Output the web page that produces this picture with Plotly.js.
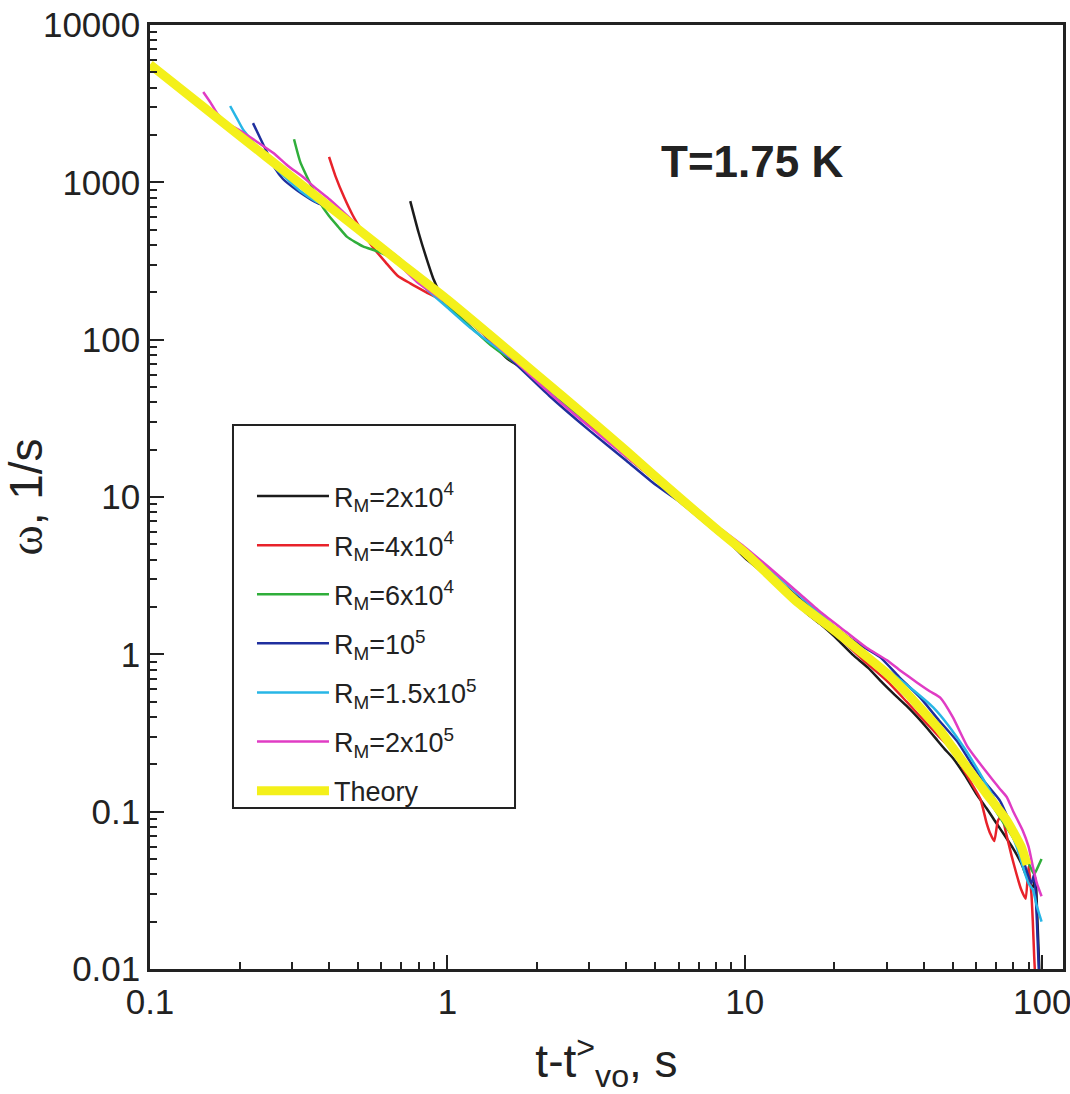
<!DOCTYPE html>
<html>
<head>
<meta charset="utf-8">
<script src="https://cdn.plot.ly/plotly-3.0.1.min.js"></script>
<style>html,body{margin:0;padding:0;background:#fff;}#chart{width:1070px;height:1094px;}</style>
</head>
<body>
<div id="chart"></div>
<script>
// ---- data ----
var seriesNames = [
  'R<sub>M</sub>=2x10<sup>4</sup>',
  'R<sub>M</sub>=4x10<sup>4</sup>',
  'R<sub>M</sub>=6x10<sup>4</sup>',
  'R<sub>M</sub>=10<sup>5</sup>',
  'R<sub>M</sub>=1.5x10<sup>5</sup>',
  'R<sub>M</sub>=2x10<sup>5</sup>',
  'Theory'
];

var blackX = [0.75,0.8,0.85,0.9,0.95,1.1,1.3,1.6,2,2.5,3,4,5,6,7,8,9,10,12,14,16,18,20,23,26,29,32,35,38,41,44,47,50,55,60,65,70,75,80,85,88,91,93,95,96,97,98];
var blackY = [760,480,330,240,195,150,112,75,58,41,31,19,13.5,9.6,7.6,6.0,5.0,4.1,3.1,2.4,1.85,1.55,1.3,1.0,0.82,0.66,0.55,0.47,0.40,0.34,0.29,0.25,0.22,0.17,0.13,0.105,0.085,0.07,0.058,0.047,0.04,0.035,0.033,0.038,0.025,0.015,0.009];

var redX = [0.40,0.42,0.45,0.48,0.52,0.56,0.62,0.68,0.75,0.85,1,1.2,1.5,2,2.5,3,3.5,4,5,6,7,8,10,12,15,18,21,25,30,35,40,45,50,54,58,62,65,67,69,71,73,76,79,82,85,88,90,92,93,94,95];
var redY = [1450,1100,800,620,480,390,310,255,228,200,170,128,87,56,40,29,22.5,18,12.8,9.5,7.6,6.2,4.4,3.3,2.2,1.62,1.25,0.92,0.68,0.5,0.38,0.3,0.245,0.19,0.15,0.12,0.085,0.072,0.065,0.088,0.094,0.07,0.052,0.04,0.032,0.028,0.045,0.03,0.02,0.012,0.008];

var greenX = [0.305,0.32,0.345,0.37,0.40,0.43,0.46,0.52,0.58,0.65,0.75,0.9,1.1,1.4,1.8,2.3,3,4,5,6,7,8,10,12,15,18,22,26,30,35,40,45,50,55,60,65,70,75,80,85,90,94,97,99.5];
var greenY = [1880,1350,990,760,610,520,450,392,365,330,265,200,140,92,65,43,29.5,19.8,13.8,10.3,8.2,6.6,4.6,3.3,2.2,1.65,1.2,0.96,0.78,0.6,0.45,0.34,0.27,0.2,0.16,0.125,0.1,0.082,0.068,0.055,0.047,0.04,0.045,0.05];

var blueX = [0.222,0.235,0.248,0.263,0.28,0.312,0.34,0.365,0.40,0.46,0.52,0.58,0.63,0.7,0.8,1,1.3,1.7,2.2,3,4,5,6,8,10,13,16,20,24,28.5,33,38.9,45,51.8,58,64,72,78,84,89,92,94,96,97.6];
var blueY = [2380,1900,1535,1230,1050,890,800,740,690,551,470,405,372,320,245,172,112,70,44,26.5,17,12,9.4,6.0,4.3,2.95,2.1,1.5,1.17,0.96,0.72,0.53,0.38,0.28,0.2,0.155,0.118,0.085,0.06,0.041,0.035,0.04,0.02,0.009];

var cyanX = [0.186,0.196,0.206,0.218,0.229,0.25,0.28,0.32,0.36,0.40,0.45,0.5,0.6,0.7,0.85,1,1.2,1.5,2,2.5,3,4,5,6,8,10,13,16,20,25,30,35,40,43,48,55,63.5,70,76,82,87,90,93,96,98,99.5];
var cyanY = [3055,2550,2150,1880,1680,1380,1110,880,760,700,600,520,400,300,210,160,118,86,58,41,31,19,13.5,10.2,6.5,4.6,3.1,2.2,1.5,1.03,0.8,0.64,0.52,0.46,0.36,0.25,0.16,0.115,0.085,0.06,0.042,0.035,0.032,0.025,0.022,0.02];

var magentaX = [0.151,0.16,0.168,0.18,0.2,0.23,0.26,0.29,0.327,0.36,0.403,0.45,0.5,0.55,0.62,0.7,0.8,1,1.3,1.7,2.2,3,4,5,6,8,10,12,15,18,22,25.7,30,33.3,38,42,45.4,50,56,62,68,72,76,80,86,90,93,96,99.5];
var magentaY = [3750,3200,2750,2400,2140,1800,1535,1280,1080,920,775,640,530,450,360,290,228,170,112,72,46,28,18,13,10,6.6,4.8,3.6,2.5,1.85,1.38,1.1,0.92,0.79,0.66,0.58,0.53,0.4,0.26,0.2,0.16,0.14,0.124,0.1,0.076,0.06,0.045,0.035,0.029];

var theoryX = [0.1,0.15,0.2,0.3,0.5,0.7,1,1.5,2,3,4,6,8,10,15,20,26,30,35,40,45,50,56,65,76,85,89];
var theoryY = [5600,3050,1980,1080,505,305,180,95,60,31.4,19.6,10,6.3,4.45,2.15,1.42,0.95,0.76,0.57,0.43,0.335,0.255,0.19,0.13,0.088,0.06,0.046];

var xTickVals = [0.1, 1, 10, 100];
var xTickText = ['0.1', '1', '10', '100'];
var yTickVals = [0.01, 0.1, 1, 10, 100, 1000, 10000];
var yTickText = ['0.01', '0.1', '1', '10', '100', '1000', '10000'];
var annotationText = '<b>T=1.75 K</b>';

// ---- styles ----
var colors = ['#1b1b1b', '#e8222a', '#2fae3a', '#1f2f9e', '#27b6e6', '#e03cc4', '#f4f01a'];
var widths = [2.5, 2.5, 2.5, 2.5, 2.5, 2.5, 9];

function minorVals(d0, d1) {
  var out = [];
  for (var d = d0; d < d1; d++) {
    for (var m = 2; m <= 9; m++) out.push(m * Math.pow(10, d));
  }
  return out;
}

var xs = [blackX, redX, greenX, blueX, cyanX, magentaX, theoryX];
var ys = [blackY, redY, greenY, blueY, cyanY, magentaY, theoryY];
var traces = xs.map(function (x, i) {
  return {
    type: 'scatter', mode: 'lines', x: x, y: ys[i],
    name: seriesNames[i], legendgroup: 'g' + i,
    line: {color: colors[i], width: widths[i], shape: 'spline', smoothing: 0.5},
    hoverinfo: 'x+y+name'
  };
});

var axisCommon = {
  type: 'log', showgrid: false, zeroline: false,
  showline: true, mirror: true, linecolor: '#222', linewidth: 2.5,
  ticks: 'inside', ticklen: 14, tickwidth: 2, tickcolor: '#222',
  tickmode: 'array', ticklabeloverflow: 'allow',
  tickfont: {family: 'Liberation Sans, Arial, sans-serif', size: 35, color: '#222'}
};

var layout = {
  width: 1070, height: 1094,
  margin: {l: 150, r: 7, t: 25, b: 125},
  paper_bgcolor: '#fff', plot_bgcolor: '#fff',
  font: {family: 'Liberation Sans, Arial, sans-serif', color: '#222'},
  xaxis: Object.assign({}, axisCommon, {
    range: [-1, 2.07], tickvals: xTickVals, ticktext: xTickText,
    minor: {tickmode: 'array', tickvals: minorVals(-1, 2), ticks: 'inside', ticklen: 7, tickwidth: 1.5, tickcolor: '#222', showgrid: false},
    title: {text: 't-t<sup>></sup><sub>vo</sub>, s', font: {size: 46, color: '#222'}, standoff: 26},
    automargin: false
  }),
  yaxis: Object.assign({}, axisCommon, {
    range: [-2, 4], tickvals: yTickVals, ticktext: yTickText,
    minor: {tickmode: 'array', tickvals: minorVals(-2, 4), ticks: 'inside', ticklen: 7, tickwidth: 1.5, tickcolor: '#222', showgrid: false},
    title: {text: '<span style="font-family:Liberation Serif">ω</span>, 1/s', font: {size: 46, color: '#222'}, standoff: 0},
    automargin: false
  }),
  showlegend: true,
  legend: {
    x: 0.1117, y: 0.5265, xanchor: 'left', yanchor: 'top',
    bgcolor: 'rgba(0,0,0,0)', borderwidth: 0,
    font: {size: 27, color: '#222'},
    traceorder: 'grouped', tracegroupgap: 11, itemwidth: 72
  },
  shapes: [{
    type: 'rect', xref: 'paper', yref: 'paper', layer: 'above',
    x0: 0.0909, x1: 0.3998, y0: 0.1706, y1: 0.5763,
    line: {color: '#222', width: 2}, fillcolor: 'rgba(255,255,255,1)'
  }],
  annotations: [{
    xref: 'paper', yref: 'paper', x: 0.659, y: 0.884,
    text: annotationText, showarrow: false,
    font: {size: 44, color: '#222', family: 'Liberation Sans, Arial, sans-serif'}
  }]
};

Plotly.newPlot('chart', traces, layout, {displayModeBar: false});
</script>
</body>
</html>
